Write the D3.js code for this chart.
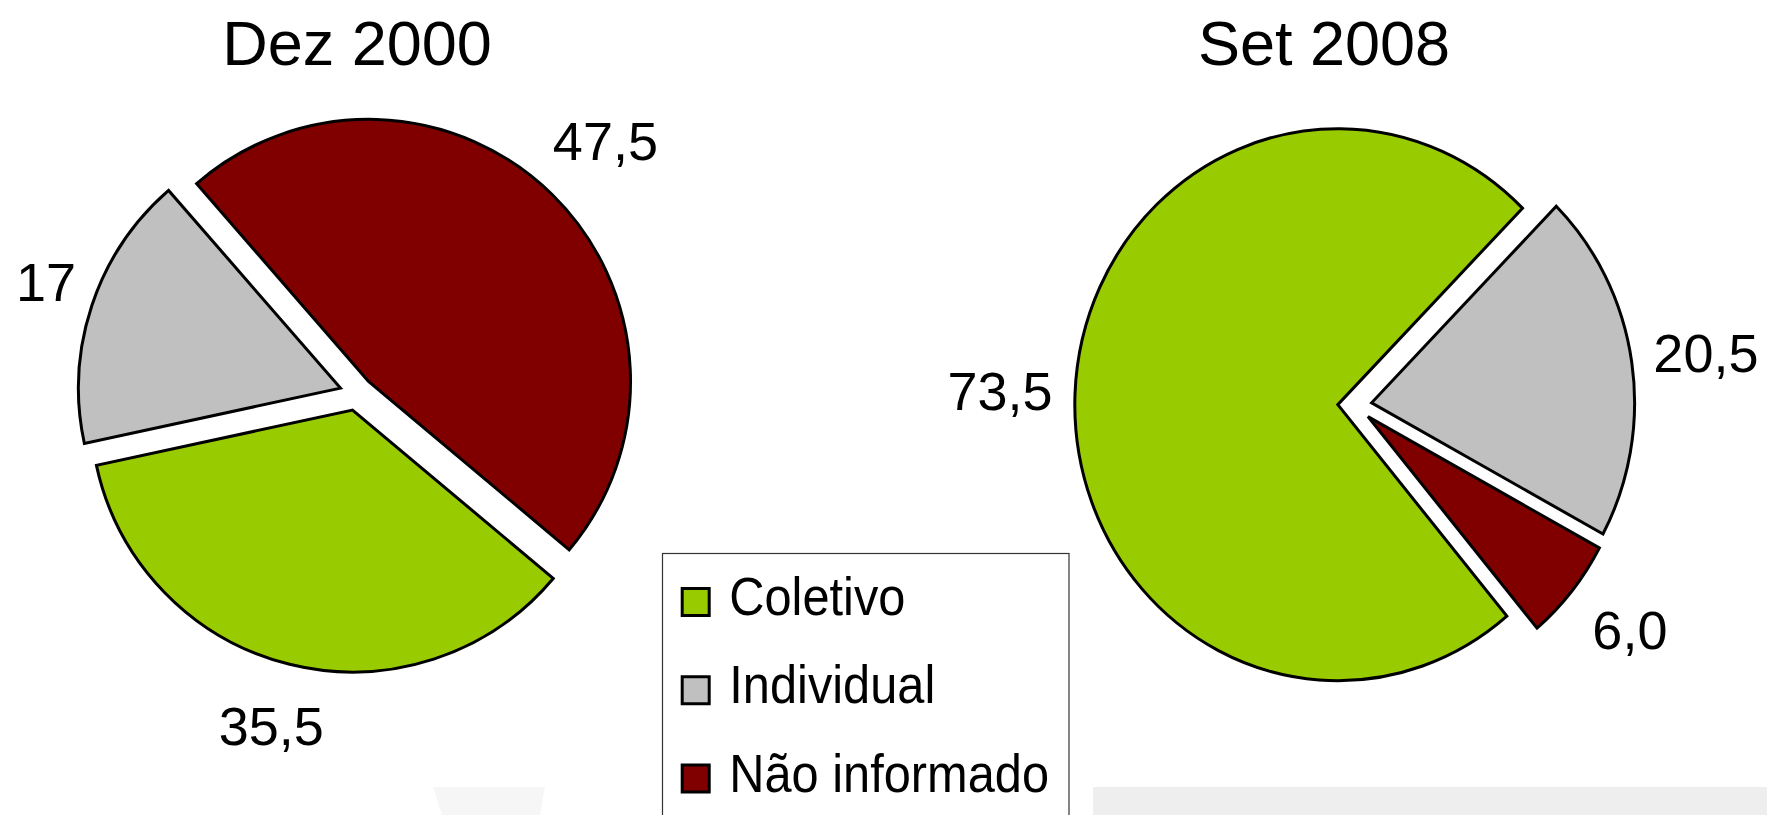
<!DOCTYPE html>
<html>
<head>
<meta charset="utf-8">
<script src="https://cdn.jsdelivr.net/npm/d3@7"></script>
<style>
    body { margin: 0; background: #fff; }
    svg text { font-family: "Liberation Sans", Arial, sans-serif; fill: #000; }
</style>
</head>
<body>
<svg id="chart" width="1767" height="815"></svg>
<script>
/**
 * Data.
 */
const categories = ['Coletivo', 'Individual', 'Não informado'];
const colors = ['#99cc00', '#c0c0c0', '#800000'];
const periods = ['Dez 2000', 'Set 2008'];
const valuesDez2000 = [35.5, 17, 47.5];
const valuesSet2008 = [73.5, 20.5, 6.0];
const labelsDez2000 = ['35,5', '17', '47,5'];
const labelsSet2008 = ['73,5', '20,5', '6,0'];

/**
 * Visual configs.
 */
const width = 1767, height = 815;
const explode = 17,     // Distance each slice is pulled out
    labelDist = 355,    // Distance of label centres from the pie centre
    strokeWidth = 3;
// Labels are kept inside the chart area
const plotArea = { left: 16, right: width - 6, bottom: 745 };

const pies = [
    { title: periods[0], values: valuesDez2000, labels: labelsDez2000,
      cx: 356.6, cy: 393.5, rx: 262, ry: 262, start: 130, titleX: 357 },
    { title: periods[1], values: valuesSet2008, labels: labelsSet2008,
      cx: 1354.8, cy: 405.4, rx: 263, ry: 276, start: 140, titleX: 1324 }
];

const svg = d3.select('#chart');
const toRad = deg => deg * Math.PI / 180;

// Faint background shapes along the bottom edge
svg.append('polygon')
    .attr('points', '433,787 545,787 540,815 442,815')
    .attr('fill', '#f6f6f6');
svg.append('rect')
    .attr('x', 1093).attr('y', 787)
    .attr('width', width - 1093).attr('height', height - 787)
    .attr('fill', '#eeeeee');

/**
 * Draw one pie.
 */
function drawPie(p) {
    const pie = d3.pie().sort(null).value(d => d)
        .startAngle(toRad(p.start))
        .endAngle(toRad(p.start + 360));
    const arcs = pie(p.values);
    const arc = d3.arc().innerRadius(0).outerRadius(p.rx);

    const g = svg.append('g').attr('class', 'pie');

    // Title
    g.append('text')
        .attr('x', p.titleX)
        .attr('y', 65)
        .attr('text-anchor', 'middle')
        .style('font-size', '63px')
        .text(p.title);

    // Slices, drawn as circles then stretched to the pie's ellipse
    const body = g.append('g')
        .attr('transform', 'translate(' + p.cx + ',' + p.cy + ') scale(1,' + (p.ry / p.rx) + ')');

    body.selectAll('path.slice').data(arcs)
        .enter().append('path')
            .attr('class', 'slice')
            .attr('d', arc)
            .attr('transform', d => {
                const a = (d.startAngle + d.endAngle) / 2;
                return 'translate(' + (explode * Math.sin(a)) + ',' + (-explode * Math.cos(a)) + ')';
            })
            .attr('fill', (d, i) => colors[i])
            .attr('stroke', '#000')
            .attr('stroke-width', strokeWidth)
            .attr('stroke-linejoin', 'miter')
            .attr('vector-effect', 'non-scaling-stroke');

    // Value labels, centred on the slice's mid-angle ray
    const fontSize = 54, capHalf = fontSize * 0.716 / 2;
    g.selectAll('text.value').data(arcs)
        .enter().append('text')
            .attr('class', 'value')
            .style('font-size', fontSize + 'px')
            .attr('text-anchor', 'middle')
            .text((d, i) => p.labels[i])
            .each(function(d) {
                const a = (d.startAngle + d.endAngle) / 2,
                    w = this.getComputedTextLength();
                let x = p.cx + labelDist * Math.sin(a),
                    y = p.cy - labelDist * Math.cos(a) + capHalf;
                x = Math.max(plotArea.left + w / 2, Math.min(plotArea.right - w / 2, x));
                y = Math.min(plotArea.bottom, y);
                d3.select(this).attr('x', x).attr('y', y);
            });
}

pies.forEach(drawPie);

/**
 * Legend.
 */
const legend = svg.append('g').attr('class', 'legend');
legend.append('rect')
    .attr('x', 662.5).attr('y', 553.5)
    .attr('width', 406.5).attr('height', 300)
    .attr('fill', '#fff')
    .attr('stroke', '#333')
    .attr('stroke-width', 1.2);

const rowY = d3.scalePoint().domain(categories).range([602, 778.5]);

const rows = legend.selectAll('g.row').data(categories)
    .enter().append('g')
        .attr('class', 'row')
        .attr('transform', d => 'translate(0,' + rowY(d) + ')');
rows.append('rect')
    .attr('x', 682.2).attr('y', -13.5)
    .attr('width', 27).attr('height', 27)
    .attr('fill', (d, i) => colors[i])
    .attr('stroke', '#000')
    .attr('stroke-width', strokeWidth);
rows.append('text')
    .attr('transform', 'translate(729.3,13) scale(0.92,1)')
    .style('font-size', '53px')
    .text(String);
</script>
</body>
</html>
